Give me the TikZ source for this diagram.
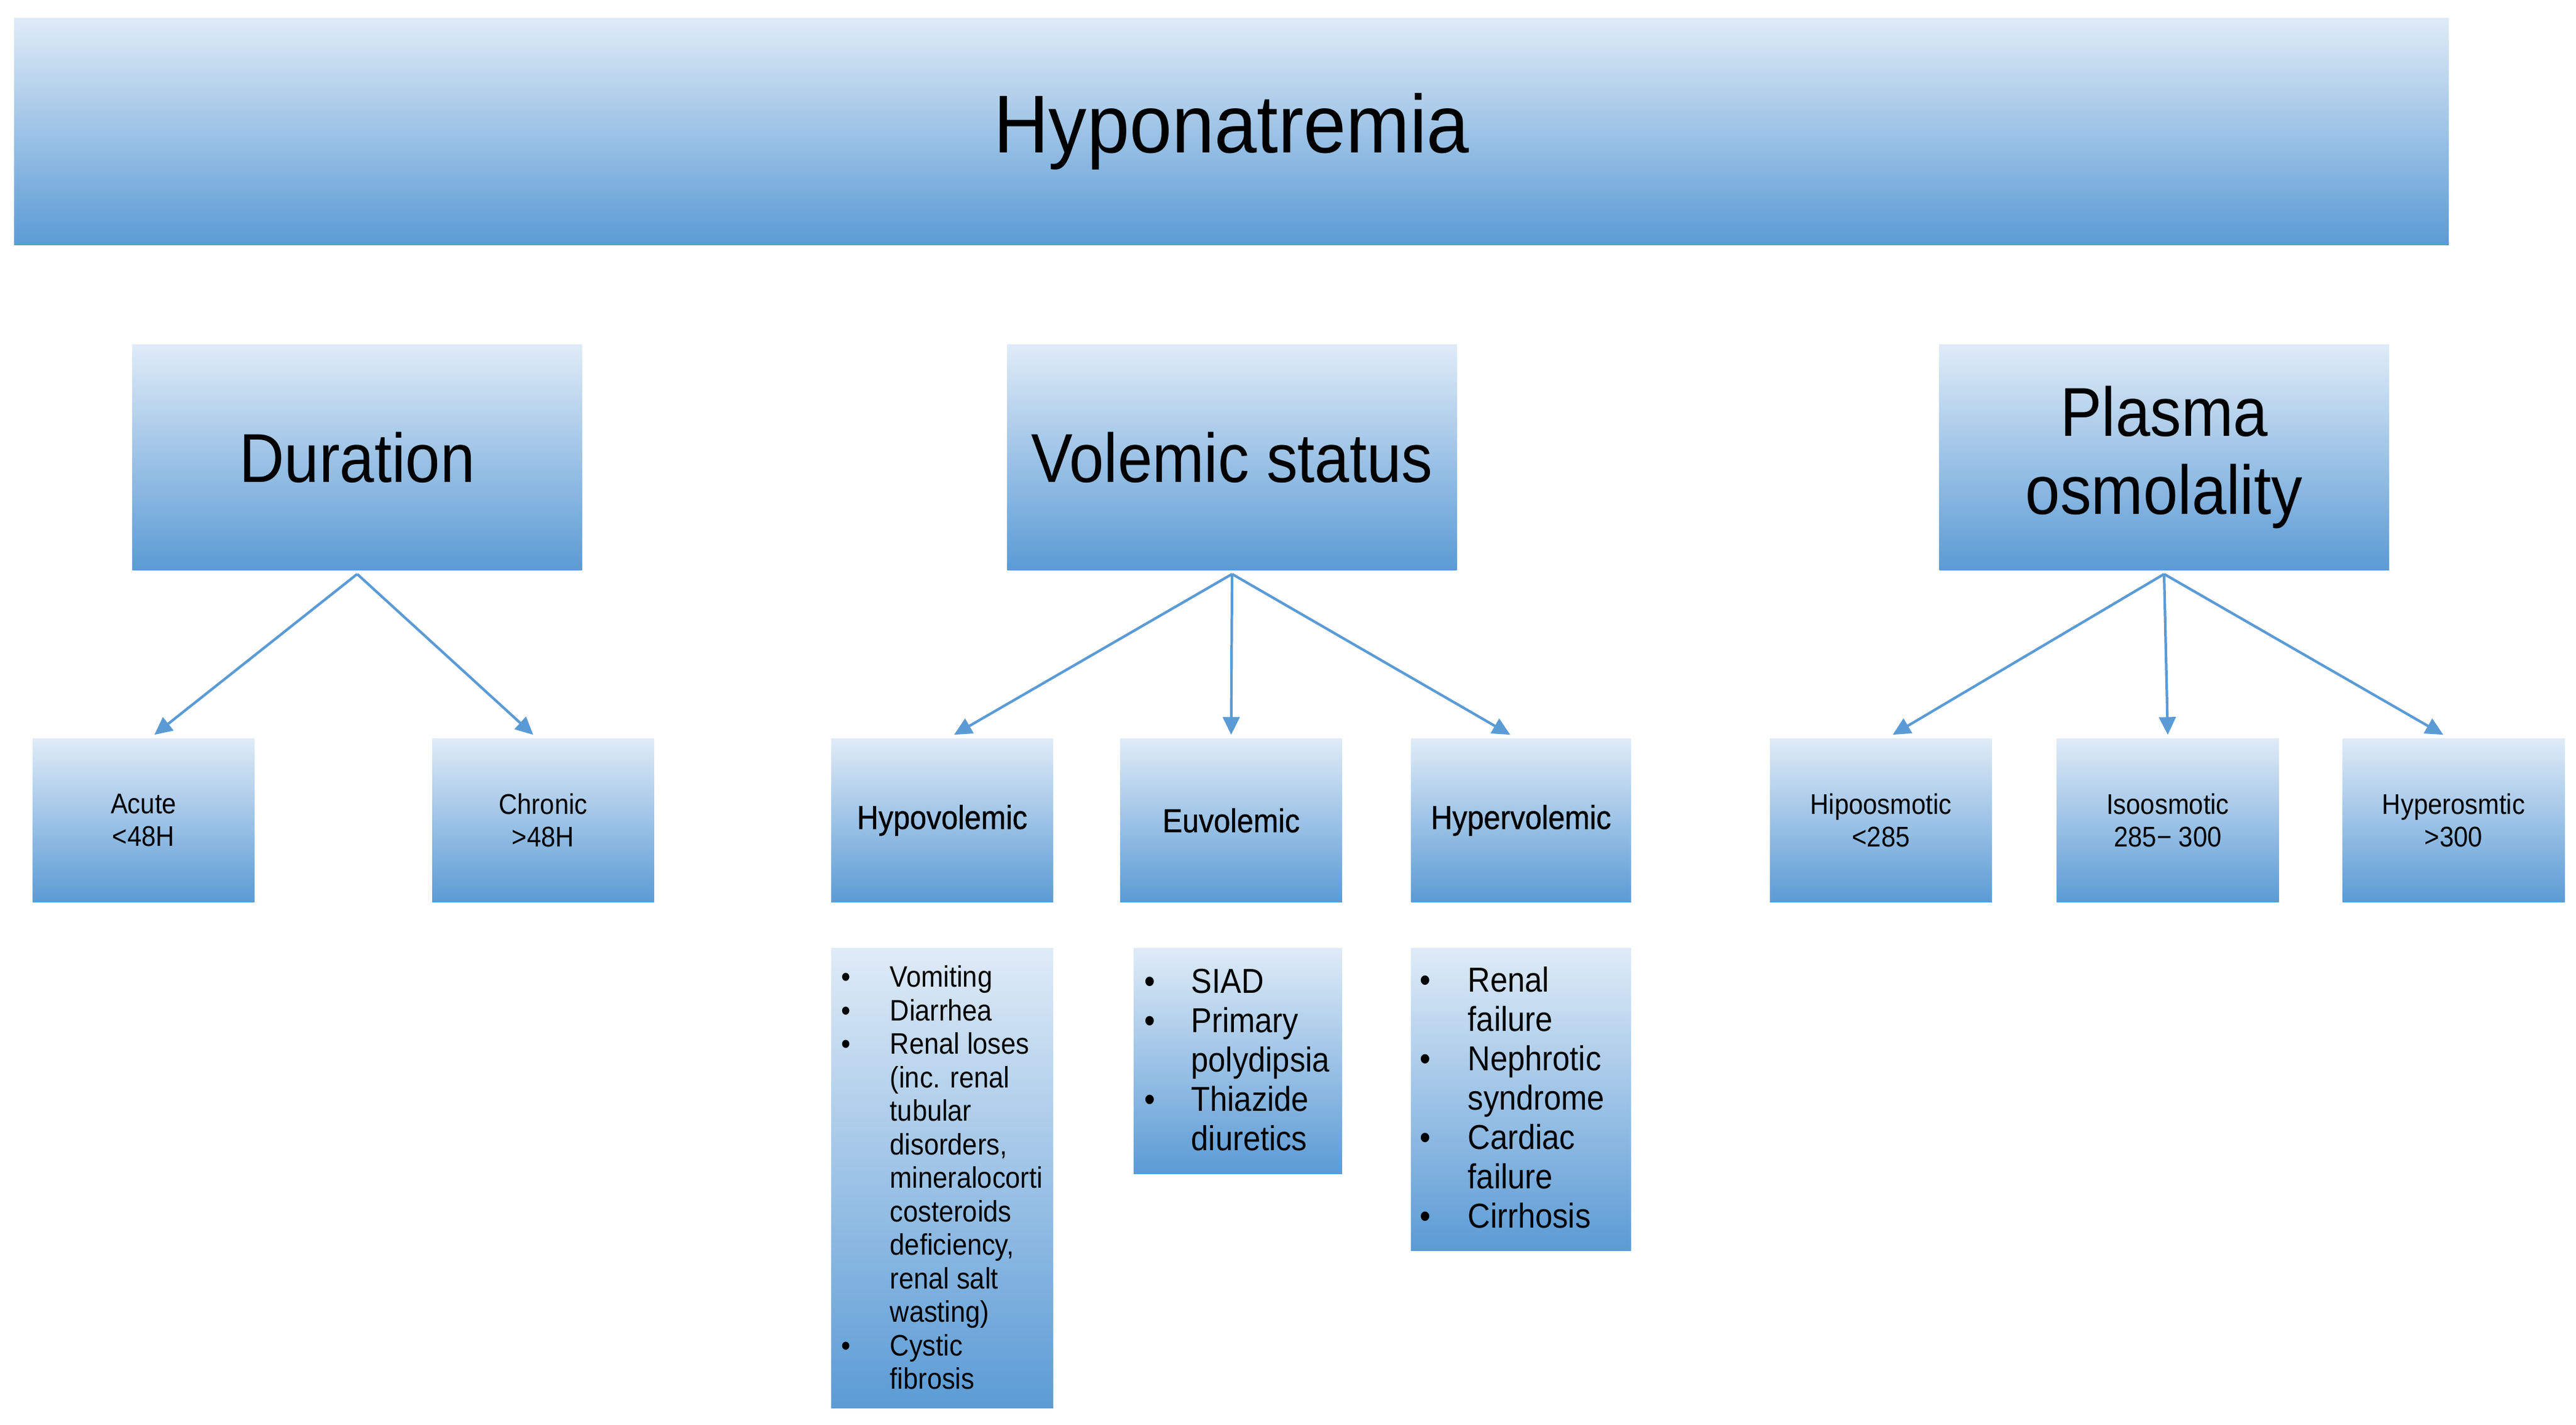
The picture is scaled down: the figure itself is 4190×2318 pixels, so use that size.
\documentclass[tikz,border=0pt]{standalone}
\usepackage{fontspec}
\setmainfont{Liberation Sans}[FakeStretch=0.9]
\newfontfamily\titlefont{Liberation Sans}[FakeStretch=0.93]
\newfontfamily\medfont{Liberation Sans}[FakeStretch=0.9, FakeBold=0.8]
\usetikzlibrary{arrows.meta}
\definecolor{gtop}{RGB}{223,235,247}
\definecolor{gbot}{RGB}{91,155,213}
\definecolor{arrowc}{RGB}{91,155,213}
\begin{document}
\begin{tikzpicture}[x=0.01cm,y=-0.01cm,
  gbox/.style={draw=none, top color=gtop, bottom color=gbot, inner sep=0pt, align=center, text=black},
  topbox/.style={gbox, minimum width=7.31cm, minimum height=3.66cm, font=\fontsize{32}{36}\selectfont},
  kidbox/.style={gbox, minimum width=3.61cm, minimum height=2.65cm, font=\fontsize{13.2}{15.2}\selectfont},
  volbox/.style={kidbox, font=\medfont\fontsize{15.3}{17}\selectfont},
  listtxt/.style={anchor=north west, inner sep=0pt, align=left},
  conn/.style={draw=arrowc, line width=1.2pt, -{Triangle[length=8.2pt,width=7.7pt]}},
]
\useasboundingbox (0,0) rectangle (4190,2318);

% title
\node[gbox, minimum width=39.58cm, minimum height=3.68cm, font=\titlefont\fontsize{38}{44}\selectfont] (title) at (2003,214) {Hyponatremia};

% level 1
\node[topbox] (dur) at (581,744) {Duration};
\node[topbox] (vol) at (2004,744) {Volemic status};
\node[topbox] (osm) at (3520,744) {Plasma\\osmolality};

% level 2
\node[kidbox] (acute) at (233.5,1334.5) {Acute\\<48H};
\node[kidbox] (chronic) at (883.5,1334.5) {Chronic\\>48H};
\node[volbox] (hypo) at (1532.5,1334.5) {Hypovolemic};
\node[volbox] (eu) at (2002.5,1334.5) {Euvolemic};
\node[volbox, minimum width=3.58cm] (hyper) at (2474,1334.5) {Hypervolemic};
\node[kidbox] (hipo) at (3059.5,1334.5) {Hipoosmotic\\<285};
\node[kidbox] (iso) at (3526,1334.5) {Isoosmotic\\285− 300};
\node[kidbox] (hypos) at (3991,1334.5) {Hyperosmtic\\>300};

% list boxes
\node[gbox, minimum width=3.61cm, minimum height=7.47cm] (hypoL) at (1532.5,1916.5) {};
\node[gbox, minimum width=3.39cm, minimum height=3.66cm] (euL) at (2013.5,1726) {};
\node[gbox, minimum width=3.58cm, minimum height=4.91cm] (hyperL) at (2474,1788.5) {};

\node[listtxt] (hypoT) at (1368,1567) {\fontsize{13.7}{15.5}\selectfont
\begin{tabular}{@{}p{22.5pt}@{}l@{}}
\textbullet & Vomiting\\
\textbullet & Diarrhea\\
\textbullet & Renal loses\\
 & (inc. renal\\
 & tubular\\
 & disorders,\\
 & mineralocorti\\
 & costeroids\\
 & deficiency,\\
 & renal salt\\
 & wasting)\\
\textbullet & Cystic\\
 & fibrosis
\end{tabular}};

\node[listtxt] (euT) at (1861,1570) {\fontsize{16}{18.2}\selectfont
\begin{tabular}{@{}p{21.6pt}@{}l@{}}
\textbullet & SIAD\\
\textbullet & Primary\\
 & polydipsia\\
\textbullet & Thiazide\\
 & diuretics
\end{tabular}};

\node[listtxt] (hyperT) at (2309,1568) {\fontsize{16}{18.2}\selectfont
\begin{tabular}{@{}p{22.2pt}@{}l@{}}
\textbullet & Renal\\
 & failure\\
\textbullet & Nephrotic\\
 & syndrome\\
\textbullet & Cardiac\\
 & failure\\
\textbullet & Cirrhosis
\end{tabular}};

% connectors
\draw[conn] ([yshift=-1.7pt]dur.south) -- ([xshift=5pt,yshift=1.7pt]acute.north);
\draw[conn] ([yshift=-1.7pt]dur.south) -- ([xshift=-4.6pt,yshift=1.7pt]chronic.north);
\draw[conn] ([yshift=-1.7pt]vol.south) -- ([xshift=5.5pt,yshift=1.7pt]hypo.north);
\draw[conn] ([yshift=-1.7pt]vol.south) -- ([yshift=1.7pt]eu.north);
\draw[conn] ([yshift=-1.7pt]vol.south) -- ([xshift=-5pt,yshift=1.7pt]hyper.north);
\draw[conn] ([yshift=-1.7pt]osm.south) -- ([xshift=5.4pt,yshift=1.7pt]hipo.north);
\draw[conn] ([yshift=-1.7pt]osm.south) -- ([yshift=1.7pt]iso.north);
\draw[conn] ([yshift=-1.7pt]osm.south) -- ([xshift=-4.8pt,yshift=1.7pt]hypos.north);
\end{tikzpicture}
\end{document}
